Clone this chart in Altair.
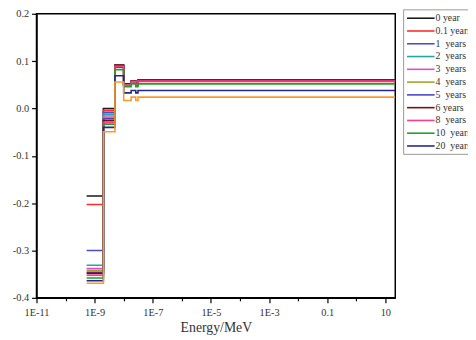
import altair as alt
import pandas as pd

# Energy bin edges (MeV); step-after lines, last value repeated at the last edge
energy_edges = [5.3e-10, 2.0e-9, 5.0e-9, 1.0e-8, 1.8e-8, 2.6e-8, 3.1e-8, 22.0]

series_names = ["0 year", "0.1 years", "1\u00a0 years", "2\u00a0 years",
                "3\u00a0 years", "4\u00a0 years", "5\u00a0 years",
                "6 years", "8\u00a0 years", "10\u00a0 years", "20\u00a0 years"]
series_colors = ["#1a1a1a", "#ff2a2a", "#4a4ad2", "#23a5a5", "#de4cd0", "#a2a22a",
                 "#4646c4", "#7c0c0c", "#ff3c8c", "#22a022", "#26268e"]

y_0yr = [-0.185, 0.000, 0.092, 0.052, 0.058, 0.052, 0.060]
y_01yr = [-0.203, -0.004, 0.088, 0.049, 0.056, 0.049, 0.057]
y_1yr = [-0.300, -0.008, 0.088, 0.050, 0.057, 0.050, 0.058]
y_2yr = [-0.331, -0.012, 0.088, 0.050, 0.057, 0.050, 0.058]
y_3yr = [-0.338, -0.016, 0.088, 0.050, 0.057, 0.050, 0.058]
y_4yr = [-0.342, -0.019, 0.087, 0.050, 0.057, 0.050, 0.058]
y_5yr = [-0.346, -0.022, 0.087, 0.050, 0.057, 0.050, 0.058]
y_6yr = [-0.348, -0.026, 0.091, 0.052, 0.058, 0.052, 0.060]
y_8yr = [-0.352, -0.029, 0.089, 0.050, 0.057, 0.050, 0.058]
y_10yr = [-0.358, -0.033, 0.082, 0.046, 0.052, 0.046, 0.052]
y_20yr = [-0.364, -0.040, 0.069, 0.033, 0.038, 0.033, 0.038]
y_extra = [-0.369, -0.049, 0.056, 0.017, 0.024, 0.017, 0.024]
extra_color = "#ff9a2a"

series_values = [y_0yr, y_01yr, y_1yr, y_2yr, y_3yr, y_4yr, y_5yr,
                 y_6yr, y_8yr, y_10yr, y_20yr]

x_tick_values = [1e-11, 1e-10, 1e-9, 1e-8, 1e-7, 1e-6, 1e-5, 1e-4, 1e-3, 1e-2, 1e-1, 1e0, 1e1]
x_tick_labels = ["1E-11", "", "1E-9", "", "1E-7", "", "1E-5", "", "1E-3", "", "0.1", "", "10"]
y_tick_values = [-0.4, -0.35, -0.3, -0.25, -0.2, -0.15, -0.1, -0.05, 0.0, 0.05, 0.1, 0.15, 0.2]
y_tick_labels = ["-0.4", "", "-0.3", "", "-0.2", "", "-0.1", "", "0.0", "", "0.1", "", "0.2"]


def steps(vals):
    return list(vals) + [vals[-1]]


rows = []
for name, vals in zip(series_names, series_values):
    for i, (e, v) in enumerate(zip(energy_edges, steps(vals))):
        rows.append({"series": name, "E": e, "v": v, "i": i})
df = pd.DataFrame(rows)
df_extra = pd.DataFrame({"E": energy_edges, "v": steps(y_extra)})

x_label_expr = "[" + ",".join(f"'{s}'" for s in x_tick_labels) + "][round(log(datum.value)/LN10)+11]"
y_label_expr = "[" + ",".join(f"'{s}'" for s in y_tick_labels) + "][round((datum.value+0.4)/0.05)]"

x_scale = alt.Scale(type="log", domain=[1e-11, 22], nice=False)
y_scale = alt.Scale(domain=[-0.4, 0.2], nice=False, zero=False)

x_axis = alt.Axis(
    values=x_tick_values, labelExpr=x_label_expr, title="Energy/MeV",
    grid=False, labelOverlap=False, labelFlush=False,
    tickSize={"condition": {"test": "abs(round(log(datum.value)/LN10)) % 2 == 1", "value": 5}, "value": 3},
    tickColor="black", tickWidth=1.2, domainColor="black", domainWidth=1.5,
    labelFontSize=10.5, labelColor="#333", labelPadding=5,
    titleFontSize=14, titleColor="#333", titleFontWeight="normal", titlePadding=3,
)
y_axis = alt.Axis(
    values=y_tick_values, labelExpr=y_label_expr, title=None,
    grid=False, labelOverlap=False, labelFlush=False,
    tickSize={"condition": {"test": "round((datum.value+0.4)/0.05) % 2 == 0", "value": 5}, "value": 3},
    tickColor="black", tickWidth=1.2, domainColor="black", domainWidth=1.5,
    labelFontSize=10.5, labelColor="#333", labelPadding=3,
)

main = alt.Chart(df).mark_line(interpolate="step-after", strokeWidth=1.6, clip=True).encode(
    x=alt.X("E:Q", scale=x_scale, axis=x_axis),
    y=alt.Y("v:Q", scale=y_scale, axis=y_axis),
    color=alt.Color(
        "series:N", sort=series_names,
        scale=alt.Scale(domain=series_names, range=series_colors),
        legend=alt.Legend(
            title=None, orient="none", legendX=373, legendY=-4.5,
            symbolType="M0,0H5.6", symbolSize=100, symbolStrokeWidth=1.6,
            symbolOffset=-5, labelOffset=23, rowPadding=2,
            labelFontSize=10, labelColor="#333", labelFont="Liberation Serif",
            strokeColor="#999", fillColor="white", padding=3,
        ),
    ),
    order="i:Q",
)

extra = alt.Chart(df_extra).mark_line(
    interpolate="step-after", strokeWidth=1.6, color=extra_color, clip=True
).encode(
    x=alt.X("E:Q", scale=x_scale),
    y=alt.Y("v:Q", scale=y_scale),
)

chart = alt.layer(main, extra).properties(
    width=365, height=289,
    autosize=alt.AutoSizeParams(type="none"),
    padding={"left": 29, "top": 3, "right": 74, "bottom": 40},
).configure(
    font="Liberation Serif",
    background="white",
).configure_view(
    stroke="black", strokeWidth=1.5,
)

chart.save("out.html", embed_options={"renderer": "svg", "actions": False})
